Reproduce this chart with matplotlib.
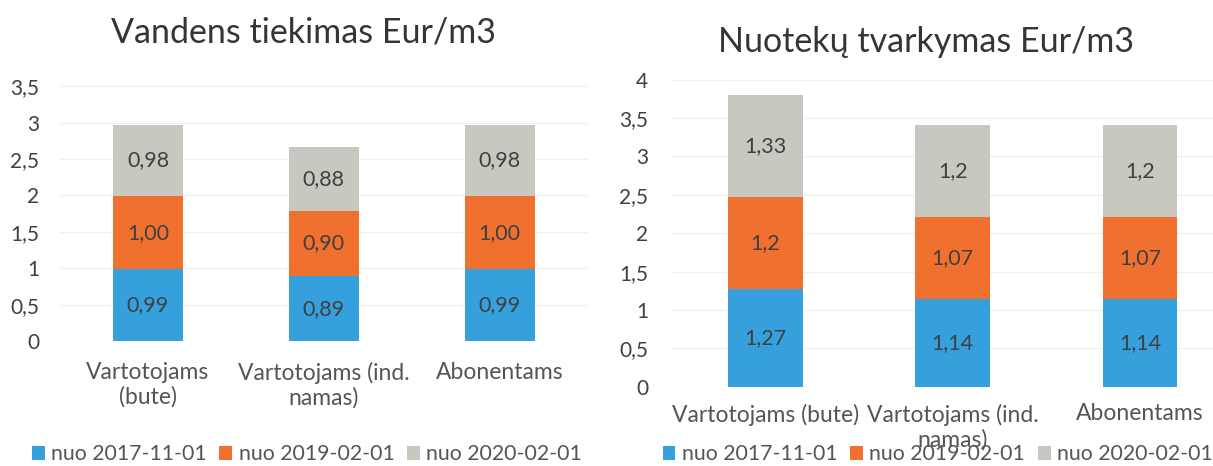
import numpy as np
import matplotlib.pyplot as plt

plt.rcParams['font.family'] = ['Lato', 'DejaVu Sans']

# Duomenys
kategorijos_1 = ['Vartotojams\n(bute)', 'Vartotojams (ind.\nnamas)', 'Abonentams']
kategorijos_2 = ['Vartotojams (bute)', 'Vartotojams (ind.\nnamas)', 'Abonentams']
serijos = ['nuo 2017-11-01', 'nuo 2019-02-01', 'nuo 2020-02-01']

vanduo_2017 = [0.99, 0.89, 0.99]
vanduo_2019 = [1.00, 0.90, 1.00]
vanduo_2020 = [0.98, 0.88, 0.98]

nuotekos_2017 = [1.27, 1.14, 1.14]
nuotekos_2019 = [1.2, 1.07, 1.07]
nuotekos_2020 = [1.33, 1.2, 1.2]

spalvos = ['#35a0dc', '#f07030', '#c8c8c0']
tekstas = '#404040'

fig = plt.figure(figsize=(12.13, 4.66), dpi=100)
ax1 = fig.add_axes([0.0495, 0.268, 0.435, 0.547])
ax2 = fig.add_axes([0.554, 0.170, 0.463, 0.659])


def stacked(ax, cats, series, fmt, ymax):
    x = np.arange(len(cats))
    bottom = np.zeros(len(cats))
    for vals, col, name in zip(series, spalvos, serijos):
        vals = np.array(vals)
        bars = ax.bar(x, vals, 0.4, bottom=bottom, color=col, label=name)
        for b, v, b0 in zip(bars, vals, bottom):
            ax.text(b.get_x() + b.get_width() / 2, b0 + v / 2,
                    fmt(v).replace('.', ','), ha='center', va='center',
                    fontsize=15.5, color=tekstas)
        bottom = bottom + vals
    ticks = np.arange(0, ymax + 0.01, 0.5)
    ax.set_xlim(-0.5, 2.5)
    ax.set_ylim(0, ymax)
    ax.set_yticks(ticks)
    ax.set_yticklabels([('%g' % t).replace('.', ',') for t in ticks],
                       fontsize=15, color=tekstas)
    ax.set_xticks(x)
    ax.set_xticklabels(cats, fontsize=16.5, color='#555555', linespacing=1.2)
    ax.tick_params(length=0)
    for s in ax.spines.values():
        s.set_visible(False)
    ax.yaxis.grid(True, color='#f0f0f0', linewidth=1)
    ax.set_axisbelow(True)


stacked(ax1, kategorijos_1, [vanduo_2017, vanduo_2019, vanduo_2020],
        lambda v: '%.2f' % v, 3.5)
stacked(ax2, kategorijos_2, [nuotekos_2017, nuotekos_2019, nuotekos_2020],
        lambda v: '%g' % v, 4)
ax1.tick_params(axis='x', pad=15)
ax1.tick_params(axis='y', pad=15)
ax2.tick_params(axis='x', pad=12)
ax2.tick_params(axis='y', pad=17)

fig.text(0.25, 0.93, 'Vandens tiekimas Eur/m3', ha='center', va='center',
         fontsize=24.5, color='#353535')
fig.text(0.763, 0.91, 'Nuotekų tvarkymas Eur/m3', ha='center', va='center',
         fontsize=24.5, color='#353535')

h, l = ax1.get_legend_handles_labels()
for cx in (0.253, 0.773):
    fig.legend(h, l, loc='center', bbox_to_anchor=(cx, 0.025), ncol=3,
               frameon=False, fontsize=15.3, handlelength=0.6, handleheight=0.6,
               handletextpad=0.3, columnspacing=0.6, labelcolor='#555555',
               borderpad=0.1)

plt.savefig('out.png', dpi=100)
